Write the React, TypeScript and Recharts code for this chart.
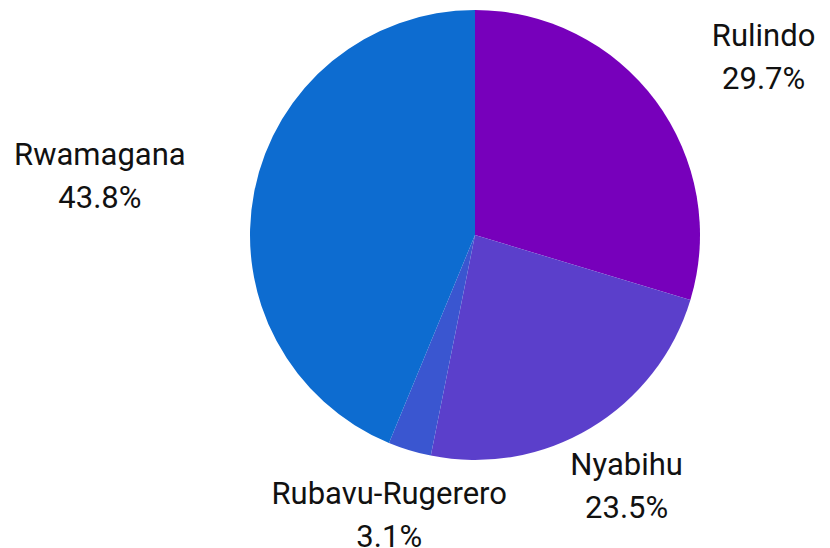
import { PieChart, Pie, Cell } from 'recharts'

const districts = ['Rulindo', 'Nyabihu', 'Rubavu-Rugerero', 'Rwamagana']
const shares = [29.7, 23.5, 3.1, 43.8]
const sliceColors = ['#7700BB', '#5B3FCB', '#3A56D0', '#0D6CD0']

const data = districts.map((name, i) => ({ name, value: shares[i] }))

const RADIAN = Math.PI / 180
const LABEL_FONT = '31px Roboto'

let ctx: CanvasRenderingContext2D | null = null
function textWidth(s: string) {
  if (!ctx) ctx = document.createElement('canvas').getContext('2d')
  if (!ctx) return s.length * 15
  ctx.font = LABEL_FONT
  return ctx.measureText(s).width
}

// two-line label block (name + percent), lines centred, block pushed outside the slice
function renderLabel(props: any) {
  const { cx, cy, midAngle, outerRadius, name, value } = props
  const pct = `${value.toFixed(1)}%`
  const r = outerRadius + 70
  const cos = Math.cos(-midAngle * RADIAN)
  const sin = Math.sin(-midAngle * RADIAN)
  const half = Math.max(textWidth(name), textWidth(pct)) / 2
  let x = cx + r * cos
  if (cos > 0.6) x += half
  else if (cos < -0.6) x -= half
  const y = cy + r * sin
  return (
    <text
      x={x}
      y={y}
      textAnchor="middle"
      fill="#111111"
      fontFamily="Roboto, sans-serif"
      fontSize={31}
    >
      <tspan x={x} dy={-13}>{name}</tspan>
      <tspan x={x} dy={43}>{pct}</tspan>
    </text>
  )
}

export default function App() {
  return (
    <div style={{ position: 'fixed', top: 0, left: 0, width: 830, height: 548, background: '#fff' }}>
      <PieChart width={830} height={548} margin={{ top: 0, right: 0, bottom: 0, left: 0 }}>
        <Pie
          data={data}
          dataKey="value"
          nameKey="name"
          cx={475}
          cy={235}
          outerRadius={225}
          startAngle={90}
          endAngle={-270}
          stroke="none"
          labelLine={false}
          label={renderLabel}
          isAnimationActive={false}
        >
          {data.map((entry, index) => (
            <Cell key={`cell-${index}`} fill={sliceColors[index]} />
          ))}
        </Pie>
      </PieChart>
    </div>
  )
}
